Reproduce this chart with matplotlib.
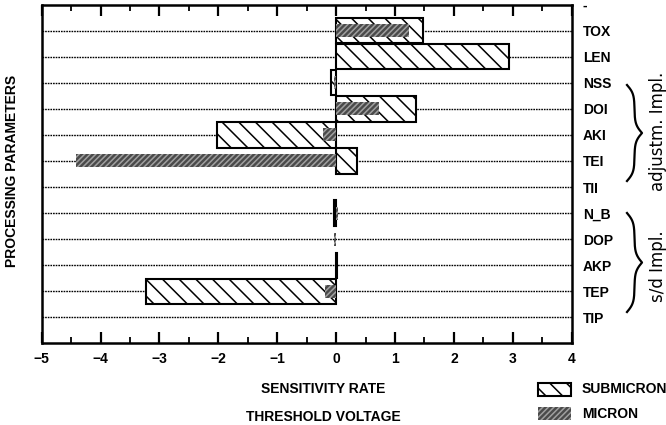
import numpy as np
import matplotlib
matplotlib.use('Agg')
import matplotlib.pyplot as plt
from matplotlib.patches import Rectangle

# parameters, top to bottom
params = ['TOX', 'LEN', 'NSS', 'DOI', 'AKI', 'TEI', 'TII',
          'N_B', 'DOP', 'AKP', 'TEP', 'TIP']
# sensitivity rate of the threshold voltage
submicron = [1.47, 2.93, -0.08, 1.36, -2.03, 0.35, 0.0,
             -0.04, 0.0, 0.01, -3.23, 0.0]
micron = [1.24, 0.0, -0.04, 0.72, -0.22, -4.41, 0.0,
          0.03, -0.03, 0.0, -0.19, 0.0]

W, H = 666, 425
plt.rcParams['font.family'] = 'Liberation Sans'
plt.rcParams['hatch.linewidth'] = 1.1

fig = plt.figure(figsize=(W / 100, H / 100), dpi=100)
ax = fig.add_axes([41.7 / W, 1 - 343.3 / H, (571.7 - 41.7) / W, (343.3 - 4.7) / H])

n = len(params)
ypos = np.arange(n, 0, -1)

# dotted grid lines at each row
for y in ypos:
    ax.axhline(y, color='black', lw=1.0, ls=(0, (1.2, 0.7)), zorder=1)

sub = np.array(submicron)
mic = np.array(micron)
ms = sub != 0
mm = mic != 0
ax.barh(ypos[ms], sub[ms], height=0.97, facecolor='white', edgecolor='black',
        hatch='\\\\', lw=1.5, zorder=2)
ax.barh(ypos[mm], mic[mm], height=0.5, facecolor='#4a4a4a', edgecolor='#a0a0a0',
        hatch='//////', lw=0, zorder=3)

ax.set_xlim(-5, 4)
ax.set_ylim(0, n + 1)
ax.set_xticks(range(-5, 5))
ax.set_xticklabels([str(v).replace('-', '\u2212') for v in range(-5, 5)],
                   fontsize=10, fontweight='bold')
ax.set_xticks(np.arange(-4.5, 4, 1.0), minor=True)
ax.tick_params(axis='x', which='major', direction='in', length=8, width=1.6,
               top=True, pad=6)
ax.tick_params(axis='x', which='minor', direction='in', length=4, width=1.3,
               top=True)

ax.yaxis.tick_right()
ax.set_yticks(list(ypos) + [n + 1])
ax.set_yticklabels(params + ['-'], fontsize=10, fontweight='bold')
ax.tick_params(axis='y', length=0, pad=8)
for s in ax.spines.values():
    s.set_linewidth(1.8)

fig.text(12 / W, 1 - 171 / H, 'PROCESSING PARAMETERS', rotation=90,
         ha='center', va='center', fontsize=10, fontweight='bold')
fig.text(323 / W, 1 - 389 / H, 'SENSITIVITY RATE', ha='center', va='center',
         fontsize=10, fontweight='bold')
fig.text(323 / W, 1 - 417 / H, 'THRESHOLD VOLTAGE', ha='center', va='center',
         fontsize=10, fontweight='bold')


def brace(x0, ytop, ybot, width):
    t = np.linspace(0, 1, 401)
    half = t[:201]
    beta = 22.0
    f = (1 / (1 + np.exp(-beta * (half - half[0])))
         + 1 / (1 + np.exp(-beta * (half - half[-1]))))
    f = np.concatenate((f, f[-2::-1]))
    f = (f - f.min()) / (f.max() - f.min())
    xs = x0 + f * width
    ys = ytop + t * (ybot - ytop)
    fig.add_artist(plt.Line2D(xs / W, 1 - ys / H, color='black', lw=1.6,
                              transform=fig.transFigure))


brace(627, 85, 181, 15)
brace(627, 213, 312, 15)
fig.text(658 / W, 1 - 131 / H, 'adjustm. Impl.', rotation=90, ha='center',
         va='center', fontsize=12, family='DejaVu Sans')
fig.text(658 / W, 1 - 266 / H, 's/d Impl.', rotation=90, ha='center',
         va='center', fontsize=12, family='DejaVu Sans')

# legend
fig.add_artist(Rectangle((538 / W, 1 - 396 / H), 33 / W, 13 / H,
                         facecolor='white', edgecolor='black', hatch='\\\\',
                         lw=1.5, transform=fig.transFigure))
fig.add_artist(Rectangle((538 / W, 1 - 420 / H), 33 / W, 13 / H,
                         facecolor='#4a4a4a', edgecolor='#a0a0a0', hatch='//////',
                         lw=0, transform=fig.transFigure))
fig.text(582 / W, 1 - 389 / H, 'SUBMICRON', ha='left', va='center',
         fontsize=10, fontweight='bold')
fig.text(582 / W, 1 - 414 / H, 'MICRON', ha='left', va='center',
         fontsize=10, fontweight='bold')

fig.savefig('out.png', dpi=100)
